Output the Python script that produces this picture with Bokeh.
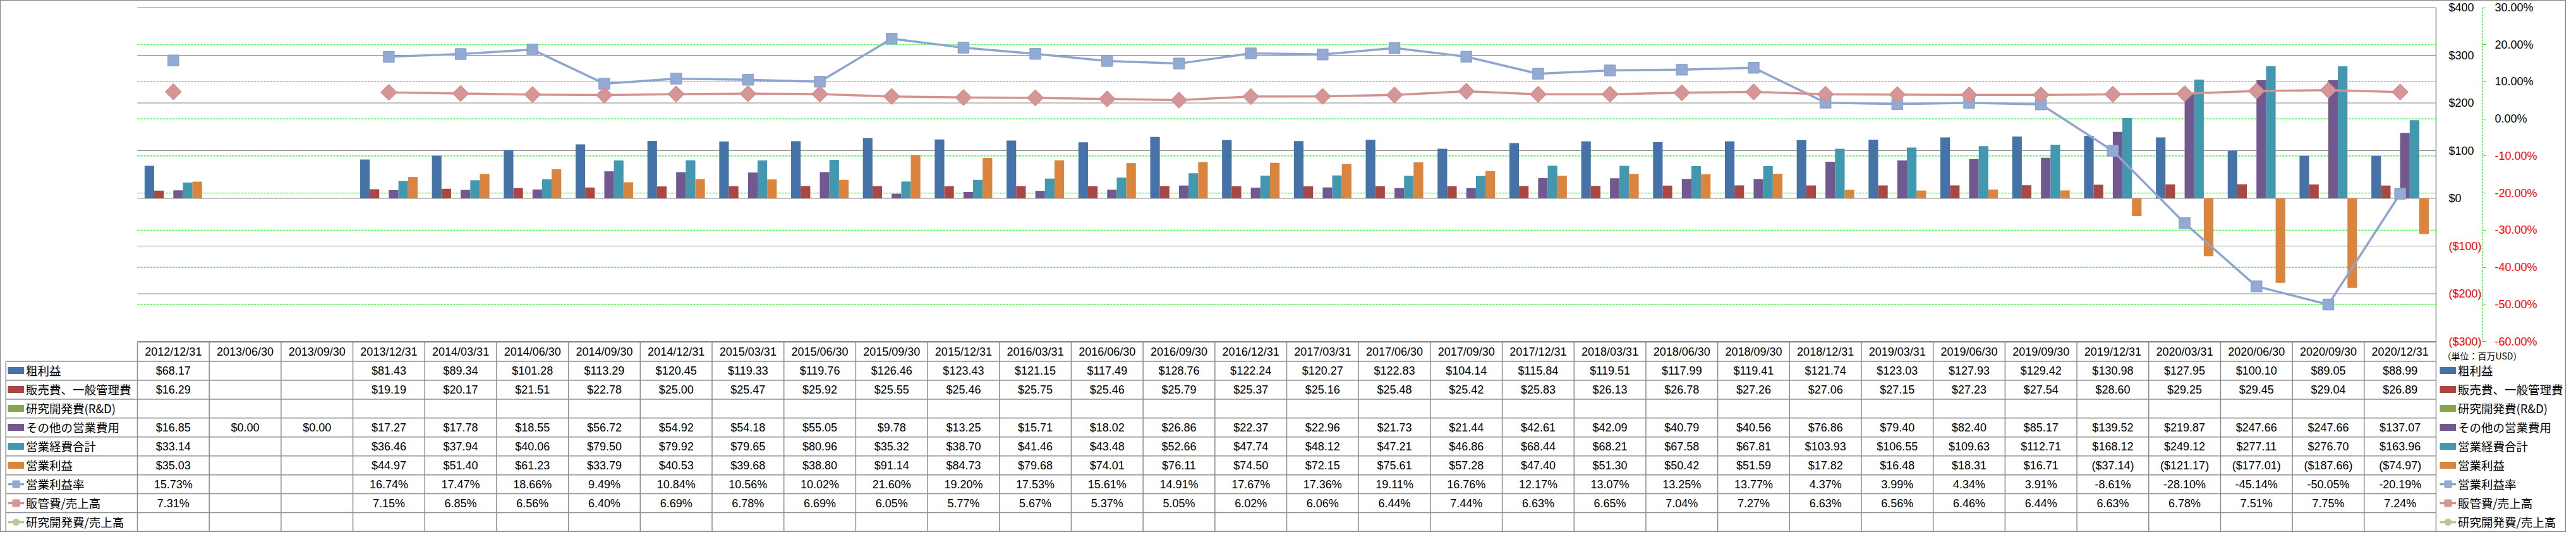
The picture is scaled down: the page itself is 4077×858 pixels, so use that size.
import math
from bokeh.plotting import figure
from bokeh.models import Range1d, LinearAxis, FixedTicker, ColumnDataSource, Legend, LegendItem
from bokeh.core.properties import value
from bokeh.embed import file_html
from bokeh.resources import INLINE

NaN = float("nan")

# ---------------- data ----------------
dates = ["2012/12/31", "2013/06/30", "2013/09/30", "2013/12/31", "2014/03/31", "2014/06/30",
         "2014/09/30", "2014/12/31", "2015/03/31", "2015/06/30", "2015/09/30", "2015/12/31",
         "2016/03/31", "2016/06/30", "2016/09/30", "2016/12/31", "2017/03/31", "2017/06/30",
         "2017/09/30", "2017/12/31", "2018/03/31", "2018/06/30", "2018/09/30", "2018/12/31",
         "2019/03/31", "2019/06/30", "2019/09/30", "2019/12/31", "2020/03/31", "2020/06/30",
         "2020/09/30", "2020/12/31"]
gross_profit = [68.17, NaN, NaN, 81.43, 89.34, 101.28, 113.29, 120.45, 119.33, 119.76, 126.46, 123.43,
                121.15, 117.49, 128.76, 122.24, 120.27, 122.83, 104.14, 115.84, 119.51, 117.99,
                119.41, 121.74, 123.03, 127.93, 129.42, 130.98, 127.95, 100.10, 89.05, 88.99]
sga = [16.29, NaN, NaN, 19.19, 20.17, 21.51, 22.78, 25.00, 25.47, 25.92, 25.55, 25.46, 25.75, 25.46,
       25.79, 25.37, 25.16, 25.48, 25.42, 25.83, 26.13, 26.78, 27.26, 27.06, 27.15, 27.23, 27.54,
       28.60, 29.25, 29.45, 29.04, 26.89]
rnd = [NaN] * 32
other_opex = [16.85, 0.00, 0.00, 17.27, 17.78, 18.55, 56.72, 54.92, 54.18, 55.05, 9.78, 13.25, 15.71,
              18.02, 26.86, 22.37, 22.96, 21.73, 21.44, 42.61, 42.09, 40.79, 40.56, 76.86, 79.40,
              82.40, 85.17, 139.52, 219.87, 247.66, 247.66, 137.07]
total_opex = [33.14, NaN, NaN, 36.46, 37.94, 40.06, 79.50, 79.92, 79.65, 80.96, 35.32, 38.70, 41.46,
              43.48, 52.66, 47.74, 48.12, 47.21, 46.86, 68.44, 68.21, 67.58, 67.81, 103.93, 106.55,
              109.63, 112.71, 168.12, 249.12, 277.11, 276.70, 163.96]
operating_income = [35.03, NaN, NaN, 44.97, 51.40, 61.23, 33.79, 40.53, 39.68, 38.80, 91.14, 84.73,
                    79.68, 74.01, 76.11, 74.50, 72.15, 75.61, 57.28, 47.40, 51.30, 50.42, 51.59, 17.82,
                    16.48, 18.31, 16.71, -37.14, -121.17, -177.01, -187.66, -74.97]
operating_margin = [15.73, NaN, NaN, 16.74, 17.47, 18.66, 9.49, 10.84, 10.56, 10.02, 21.60, 19.20,
                    17.53, 15.61, 14.91, 17.67, 17.36, 19.11, 16.76, 12.17, 13.07, 13.25, 13.77, 4.37,
                    3.99, 4.34, 3.91, -8.61, -28.10, -45.14, -50.05, -20.19]
sga_ratio = [7.31, NaN, NaN, 7.15, 6.85, 6.56, 6.40, 6.69, 6.78, 6.69, 6.05, 5.77, 5.67, 5.37, 5.05,
             6.02, 6.06, 6.44, 7.44, 6.63, 6.65, 7.04, 7.27, 6.63, 6.56, 6.46, 6.44, 6.63, 6.78,
             7.51, 7.75, 7.24]
rnd_ratio = [NaN] * 32

series_names = ["粗利益", "販売費、一般管理費", "研究開発費(R&D)", "その他の営業費用", "営業経費合計",
                "営業利益", "営業利益率", "販管費/売上高", "研究開発費/売上高"]
usd_ticks = [400, 300, 200, 100, 0, -100, -200, -300]
usd_labels = ["$400", "$300", "$200", "$100", "$0", "($100)", "($200)", "($300)"]
pct_ticks = [30, 20, 10, 0, -10, -20, -30, -40, -50, -60]
pct_labels = ["30.00%", "20.00%", "10.00%", "0.00%", "-10.00%", "-20.00%", "-30.00%",
              "-40.00%", "-50.00%", "-60.00%"]
unit_label = "（単位：百万USD）"

# ---------------- styles / layout ----------------
BAR_COLORS = ["#4572A7", "#AA4643", "#89A54E", "#71588F", "#4198AF", "#DB843D"]
OM_COLOR, SR_COLOR, RR_COLOR = "#8EA6CF", "#D39391", "#B3CB92"
GRID_GRAY, TABLE_GRAY, GREEN, RED = "#868686", "#8E8E8E", "#00FF00", "#FF0000"
NUM_FONT, JP_FONT = "Liberation Sans", "Noto Sans CJK JP"

W, H = 4061, 842
OX = 8
REF_TOP, REF_BOT = 2.0, 858.0
SY = H / (REF_BOT - REF_TOP)
PX0, PX1 = 225.0, 3863.0
N = len(dates)
COLW = (PX1 - PX0) / N
PY_TOP, PY_BOT = 13.7, 551.0
TBL_TOP, HDR_BOT, TBL_BOT = 552.0, 583.0, 857.0
ROWH = (TBL_BOT - HDR_BOT) / 9


def xd(ref_x):
    return (ref_x - PX0) / COLW


def lin_range(v_top, v_bot):
    per = (v_top - v_bot) / (PY_BOT - PY_TOP)
    return Range1d(start=v_top - (REF_BOT - PY_TOP) * per, end=v_top + (PY_TOP - REF_TOP) * per)


p = figure(width=W, height=H, x_range=Range1d(xd(OX), xd(OX + W)), y_range=lin_range(400, -300),
           output_backend="svg", toolbar_location=None, x_axis_location=None, y_axis_location=None,
           min_border=0, title=None, outline_line_color="#8C8C8C", outline_line_width=1.5,
           background_fill_color="white", border_fill_color="white")
p.extra_y_ranges = {"pct": lin_range(30, -60), "ref": Range1d(start=REF_BOT, end=REF_TOP)}
p.grid.visible = False

# ---------------- gridlines ----------------
p.segment(x0=[0] * len(usd_ticks), x1=[N] * len(usd_ticks), y0=usd_ticks, y1=usd_ticks,
          line_color=GRID_GRAY, line_width=1.2)
pg = pct_ticks[1:-1]
p.segment(x0=[0] * len(pg), x1=[N] * len(pg), y0=pg, y1=pg, y_range_name="pct",
          line_color=GREEN, line_width=1.2, line_dash="3 2")

# ---------------- bars ----------------
BW = 0.1334
xc = [i + 0.5 for i in range(N)]
bar_series = [gross_profit, sga, rnd, other_opex, total_opex, operating_income]
for k, (vals, col) in enumerate(zip(bar_series, BAR_COLORS)):
    xs = [c + (k - 2.5) * BW for c in xc]
    p.vbar(x=xs, top=vals, bottom=0, width=BW, fill_color=col, line_color=None)

# ---------------- lines ----------------
ln_om = p.line(xc, operating_margin, y_range_name="pct", line_color=OM_COLOR, line_width=3.5)
sc_om = p.scatter(xc, operating_margin, y_range_name="pct", marker="square", size=17,
                  fill_color="#93ABD4", line_color="#8AA2CC", line_width=1.5)
ln_sr = p.line(xc, sga_ratio, y_range_name="pct", line_color=SR_COLOR, line_width=3.5)
sc_sr = p.scatter(xc, sga_ratio, y_range_name="pct", marker="square", angle=math.pi / 4, size=17.5,
                  fill_color="#D69695", line_color="#D09090", line_width=1.5)
ln_rr = p.line(xc, rnd_ratio, y_range_name="pct", line_color=RR_COLOR, line_width=3.5)
sc_rr = p.scatter(xc, rnd_ratio, y_range_name="pct", marker="circle", size=14,
                  fill_color=RR_COLOR, line_color=RR_COLOR)

# ---------------- table ----------------
hy = [TBL_TOP] + [HDR_BOT + k * ROWH for k in range(10)]
hx0 = [0] + [xd(16.7)] * 10
p.segment(x0=hx0, x1=[N] * len(hy), y0=hy, y1=hy, y_range_name="ref",
          line_color=TABLE_GRAY, line_width=1.5)
vx = list(range(N + 1)) + [xd(16.7)]
vy0 = [TBL_TOP] * (N + 1) + [HDR_BOT]
p.segment(x0=vx, x1=vx, y0=vy0, y1=[TBL_BOT] * len(vx), y_range_name="ref",
          line_color=TABLE_GRAY, line_width=1.5)
p.segment(x0=[N], x1=[N], y0=[PY_TOP], y1=[TBL_TOP], y_range_name="ref",
          line_color=TABLE_GRAY, line_width=1.5)


def fmt_usd(v):
    if v != v:
        return ""
    return "(${:.2f})".format(-v) if v < 0 else "${:.2f}".format(v)


def fmt_pct(v):
    return "" if v != v else "{:.2f}%".format(v)


rows = [(gross_profit, fmt_usd), (sga, fmt_usd), (rnd, fmt_usd), (other_opex, fmt_usd),
        (total_opex, fmt_usd), (operating_income, fmt_usd), (operating_margin, fmt_pct),
        (sga_ratio, fmt_pct), (rnd_ratio, fmt_pct)]
tx, ty, tt = [], [], []
for i, d in enumerate(dates):
    tx.append(xc[i]); ty.append((TBL_TOP + HDR_BOT) / 2); tt.append(d)
for r, (vals, f) in enumerate(rows):
    for i, v in enumerate(vals):
        s = f(v)
        if s:
            tx.append(xc[i]); ty.append(HDR_BOT + (r + 0.5) * ROWH); tt.append(s)
p.text(x="x", y="y", text="t", source=ColumnDataSource(dict(x=tx, y=ty, t=tt)), y_range_name="ref",
       text_align="center", text_baseline="middle", text_font=value(NUM_FONT),
       text_font_size="18px", text_color="black")

p.text(x=[xd(3873)], y=[573.5], text=[unit_label], y_range_name="ref", text_align="left",
       text_baseline="middle", text_font=value(JP_FONT), text_font_size="14px", text_color="black")

# ---------------- axes (right side) ----------------
def mk_axis(rng, ticks, labels, loc, color, standoff, tick_out, line_color=None, bounds="auto"):
    ax = LinearAxis(y_range_name=rng, fixed_location=loc, ticker=FixedTicker(ticks=ticks),
                    major_label_overrides={t: l for t, l in zip(ticks, labels)},
                    major_label_standoff=standoff, major_tick_in=0, major_tick_out=tick_out,
                    major_tick_line_color=GREEN if tick_out else None,
                    minor_tick_line_color=None, axis_line_color=line_color,
                    major_label_text_font=NUM_FONT, major_label_text_font_size="18px",
                    major_label_text_color=color, bounds=bounds)
    if line_color is not None:
        ax.axis_line_dash = "3 2"
        ax.axis_line_width = 1.2
    return ax


usd_pos = [(t, l) for t, l in zip(usd_ticks, usd_labels) if t >= 0]
usd_neg = [(t, l) for t, l in zip(usd_ticks, usd_labels) if t < 0]
pct_pos = [(t, l) for t, l in zip(pct_ticks, pct_labels) if t >= 0]
pct_neg = [(t, l) for t, l in zip(pct_ticks, pct_labels) if t < 0]
loc_usd = N
loc_pct = xd(3937)
p.add_layout(mk_axis("default", [a for a, _ in usd_pos], [b for _, b in usd_pos], loc_usd, "black", 20, 0), "right")
p.add_layout(mk_axis("default", [a for a, _ in usd_neg], [b for _, b in usd_neg], loc_usd, RED, 20, 0), "right")
p.add_layout(mk_axis("pct", [a for a, _ in pct_pos], [b for _, b in pct_pos], loc_pct, "black", 14, 5), "right")
p.add_layout(mk_axis("pct", [a for a, _ in pct_neg], [b for _, b in pct_neg], loc_pct, RED, 14, 5,
                     line_color=GREEN, bounds=(-60, 30)), "right")

# ---------------- legends ----------------
bar_keys = [p.line(x=[NaN], y=[NaN], line_color=c, line_width=11, line_cap="butt") for c in BAR_COLORS]
key_renderers = [[r] for r in bar_keys] + [[ln_om, sc_om], [ln_sr, sc_sr], [ln_rr, sc_rr]]

top_fig = (HDR_BOT - REF_TOP) * SY
leg_y = H - top_fig - 9 * 30


def mk_legend(x):
    items = [LegendItem(label=n, renderers=rs) for n, rs in zip(series_names, key_renderers)]
    return Legend(items=items, location=(x, leg_y), orientation="vertical", glyph_width=26,
                  glyph_height=30, label_height=30, label_width=20, spacing=0, padding=0, margin=0,
                  label_standoff=3, border_line_color=None, background_fill_alpha=0,
                  label_text_font=JP_FONT, label_text_font_size="18.5px", label_text_color="black")


p.add_layout(mk_legend(12), "center")
p.add_layout(mk_legend(3861), "center")

open("out.html", "w").write(file_html(p, INLINE))
